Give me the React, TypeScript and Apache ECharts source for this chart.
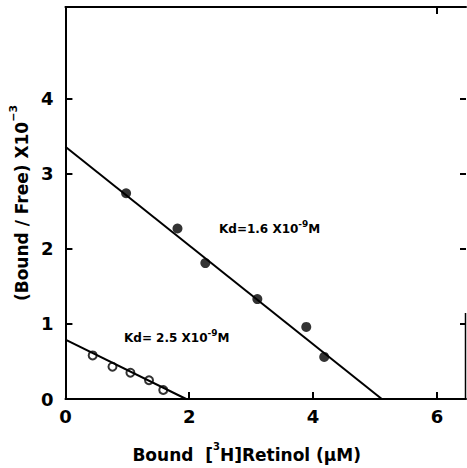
import React, { useEffect, useRef } from "react";
import * as echarts from "echarts";

const filledX = [0.98, 1.81, 2.26, 3.1, 3.89, 4.18];
const filledY = [2.74, 2.27, 1.81, 1.33, 0.96, 0.56];
const openX = [0.44, 0.76, 1.05, 1.35, 1.58];
const openY = [0.58, 0.43, 0.35, 0.25, 0.12];
const filledFitX = [0, 5.11];
const filledFitY = [3.36, 0];
const openFitX = [0, 1.95];
const openFitY = [0.79, 0];
const xTicks = [0, 2, 4, 6];
const yTicks = [0, 1, 2, 3, 4];
const rightTicks = [1, 2, 3, 4];
const topTicks = [6];

const FONT = "'DejaVu Sans', 'Liberation Sans', Arial, sans-serif";

const pairs = (xs: number[], ys: number[]) => xs.map((x, i) => [x, ys[i]]);

export default function App() {
  const ref = useRef<HTMLDivElement>(null);
  useEffect(() => {
    if (!ref.current) return;
    const chart = echarts.init(ref.current, undefined, { renderer: "svg" });
    const axisLine = { show: true, onZero: false, lineStyle: { color: "#000", width: 2 } };
    const annRich = {
      a: { fontSize: 12, fontWeight: "bold", fontFamily: FONT, fill: "#000", padding: [4, 0, 0, 0] },
      s: { fontSize: 9, fontWeight: "bold", fontFamily: FONT, fill: "#000", verticalAlign: "top" },
    };
    chart.setOption({
      animation: false,
      backgroundColor: "#fff",
      grid: { left: 65, right: 1, top: 7, bottom: 68 },
      xAxis: [
        {
          type: "value",
          min: 0,
          max: 6.47,
          interval: 2,
          splitLine: { show: false },
          axisLine,
          axisTick: { show: true, inside: true, length: 7, lineStyle: { color: "#000", width: 2 }, customValues: xTicks },
          axisLabel: { customValues: xTicks, color: "#000", fontSize: 18, fontWeight: "bold", fontFamily: FONT, margin: 8 },
          name: "{a|Bound  [}{s|3}{a|H]Retinol (μM)}",
          nameLocation: "middle",
          nameGap: 42,
          nameTextStyle: {
            padding: [0, 38, 0, 0],
            rich: {
              a: { fontSize: 17, fontWeight: "bold", fontFamily: FONT, color: "#000", padding: [5, 0, 0, 0] },
              s: { fontSize: 10, fontWeight: "bold", fontFamily: FONT, color: "#000", verticalAlign: "top" },
            },
          },
        },
        {
          type: "value",
          position: "top",
          min: 0,
          max: 6.47,
          interval: 2,
          splitLine: { show: false },
          axisLine,
          axisTick: { show: true, inside: true, length: 7, lineStyle: { color: "#000", width: 2 }, customValues: topTicks },
          axisLabel: { show: false },
        },
      ],
      yAxis: [
        {
          type: "value",
          min: 0,
          max: 5.22,
          interval: 1,
          splitLine: { show: false },
          axisLine,
          axisTick: { show: true, inside: true, length: 7, lineStyle: { color: "#000", width: 2 }, customValues: yTicks },
          axisLabel: { customValues: yTicks, color: "#000", fontSize: 18, fontWeight: "bold", fontFamily: FONT, margin: 12 },
          name: "{a|(Bound / Free) X10}{s|−3}",
          nameLocation: "middle",
          nameRotate: 90,
          nameGap: 34,
          nameTextStyle: {
            rich: {
              a: { fontSize: 17, fontWeight: "bold", fontFamily: FONT, color: "#000", padding: [5, 0, 0, 0] },
              s: { fontSize: 11, fontWeight: "bold", fontFamily: FONT, color: "#000", verticalAlign: "top" },
            },
          },
        },
        {
          type: "value",
          position: "right",
          min: 0,
          max: 5.22,
          interval: 1,
          splitLine: { show: false },
          axisLine: { show: false, onZero: false },
          axisTick: { show: true, inside: true, length: 6, lineStyle: { color: "#000", width: 2 }, customValues: rightTicks },
          axisLabel: { show: false },
        },
      ],
      graphic: [
        { type: "line", shape: { x1: 465.5, y1: 313, x2: 465.5, y2: 400 }, style: { stroke: "#000", lineWidth: 1.5 } },
        {
          type: "text",
          left: 219,
          top: 219,
          style: { text: "{a|Kd=1.6 X10}{s|-9}{a|M}", rich: annRich },
        },
        {
          type: "text",
          left: 124,
          top: 328,
          style: { text: "{a|Kd= 2.5 X10}{s|-9}{a|M}", rich: annRich },
        },
      ],
      series: [
        {
          type: "line",
          data: pairs(filledFitX, filledFitY),
          symbol: "none",
          lineStyle: { color: "#000", width: 2 },
          silent: true,
        },
        {
          type: "line",
          data: pairs(openFitX, openFitY),
          symbol: "none",
          lineStyle: { color: "#000", width: 2 },
          silent: true,
        },
        {
          type: "scatter",
          data: pairs(filledX, filledY),
          symbol: "circle",
          symbolSize: 10,
          itemStyle: { color: "#000" },
        },
        {
          type: "scatter",
          data: pairs(openX, openY),
          symbol: "circle",
          symbolSize: 8,
          itemStyle: { color: "#fff", borderColor: "#000", borderWidth: 2 },
        },
      ],
    });
    return () => chart.dispose();
  }, []);
  return <div ref={ref} style={{ width: 467, height: 468, position: "absolute", left: 0, top: 0 }} />;
}
